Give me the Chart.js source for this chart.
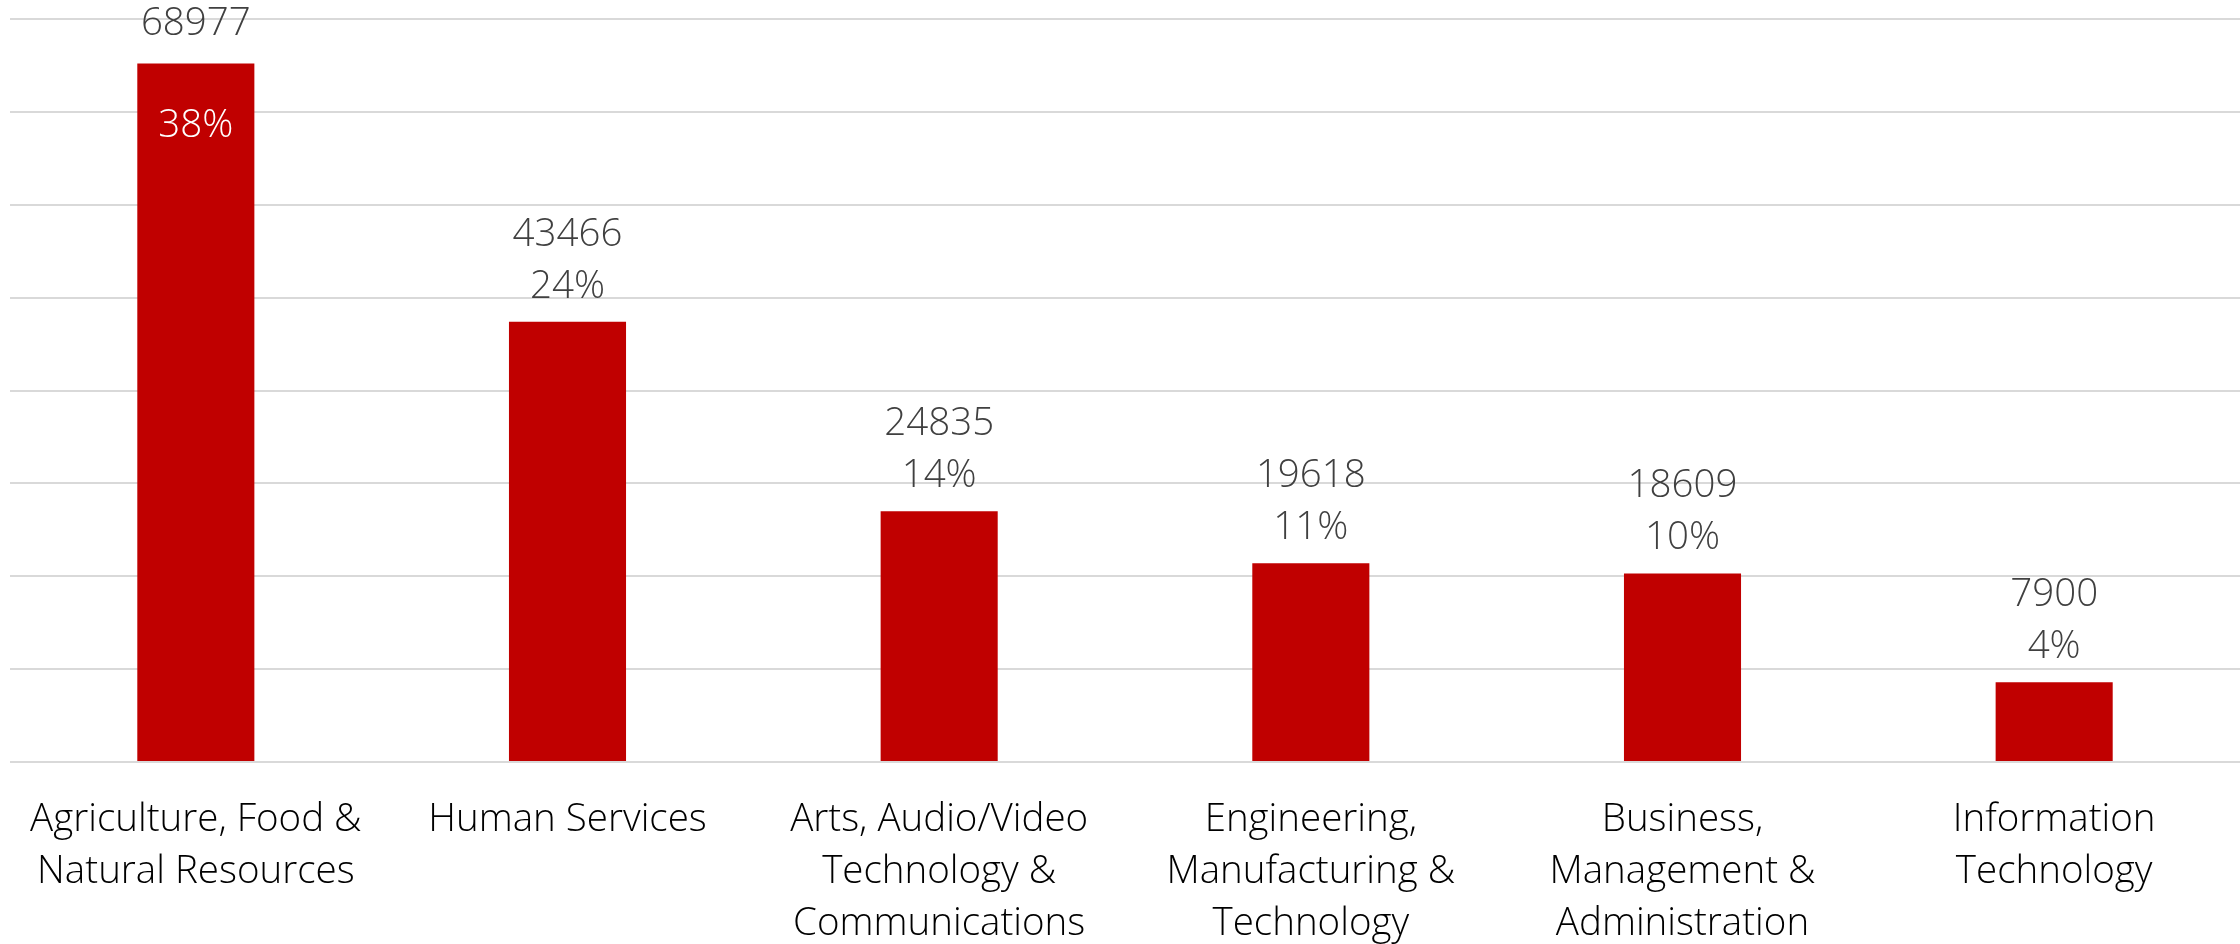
<!DOCTYPE html>
<html>
<head>
<meta charset="utf-8">
<script src="https://cdn.jsdelivr.net/npm/chart.js@4"></script>
<style>
  html, body { margin: 0; padding: 0; background: #fff; }
  #wrap { width: 2240px; height: 944px; }
</style>
</head>
<body>
<div id="wrap"><canvas id="chart" width="2240" height="944"></canvas></div>
<script>
const categories = [
  [ 'Agriculture, Food &', 'Natural Resources' ],
  [ 'Human Services' ],
  [ 'Arts, Audio/Video', 'Technology &', 'Communications' ],
  [ 'Engineering,', 'Manufacturing &', 'Technology' ],
  [ 'Business,', 'Management &', 'Administration' ],
  [ 'Information', 'Technology' ]
]
const counts = [ 68977, 43466, 24835, 19618, 18609, 7900 ]
const shares = [ 37.6, 23.7, 13.5, 10.7, 10.15, 4.3 ] // % of total, bar heights
const percentLabels = [ '38%', '24%', '14%', '11%', '10%', '4%' ]

const FONT = '"Open Sans", "DejaVu Sans", sans-serif'

const labelPlugin = {
  id: 'barLabels',
  afterDatasetsDraw( chart ) {
    const ctx = chart.ctx
    const meta = chart.getDatasetMeta( 0 )
    ctx.save()
    ctx.font = `300 38.5px ${FONT}`
    ctx.textAlign = 'center'
    ctx.textBaseline = 'alphabetic'
    meta.data.forEach( ( bar, i ) => {
      const top = bar.y
      if ( top - 76 - 28 < 0 ) {
        // no room above: value sits just over the bar, percent inside it
        ctx.fillStyle = '#404040'
        ctx.fillText( String( counts[ i ] ), bar.x, top - 29 )
        ctx.fillStyle = '#ffffff'
        ctx.fillText( percentLabels[ i ], bar.x, top + 73 )
      } else {
        ctx.fillStyle = '#404040'
        ctx.fillText( String( counts[ i ] ), bar.x, top - 76 )
        ctx.fillText( percentLabels[ i ], bar.x, top - 24 )
      }
    } )
    ctx.restore()
  }
}

new Chart( document.getElementById( 'chart' ), {
  type: 'bar',
  data: {
    labels: categories,
    datasets: [
      {
        data: shares,
        backgroundColor: '#c00000',
        barPercentage: 0.315,
        categoryPercentage: 1
      }
    ]
  },
  options: {
    responsive: false,
    animation: false,
    layout: { padding: { top: 19, left: 10, right: 0, bottom: 0 } },
    plugins: {
      legend: { display: false },
      tooltip: { enabled: false }
    },
    scales: {
      x: {
        grid: { display: false },
        border: { display: false },
        afterFit( scale ) { scale.height = 182 },
        ticks: {
          color: '#000000',
          padding: 24,
          maxRotation: 0,
          autoSkip: false,
          font: { family: FONT, size: 38.5, weight: 300, lineHeight: 52 / 38.5 }
        }
      },
      y: {
        min: 0,
        max: 40,
        ticks: { display: false, stepSize: 5 },
        grid: { color: '#d9d9d9', lineWidth: 2, drawTicks: false },
        border: { display: false }
      }
    }
  },
  plugins: [ labelPlugin ]
} )
</script>
</body>
</html>
